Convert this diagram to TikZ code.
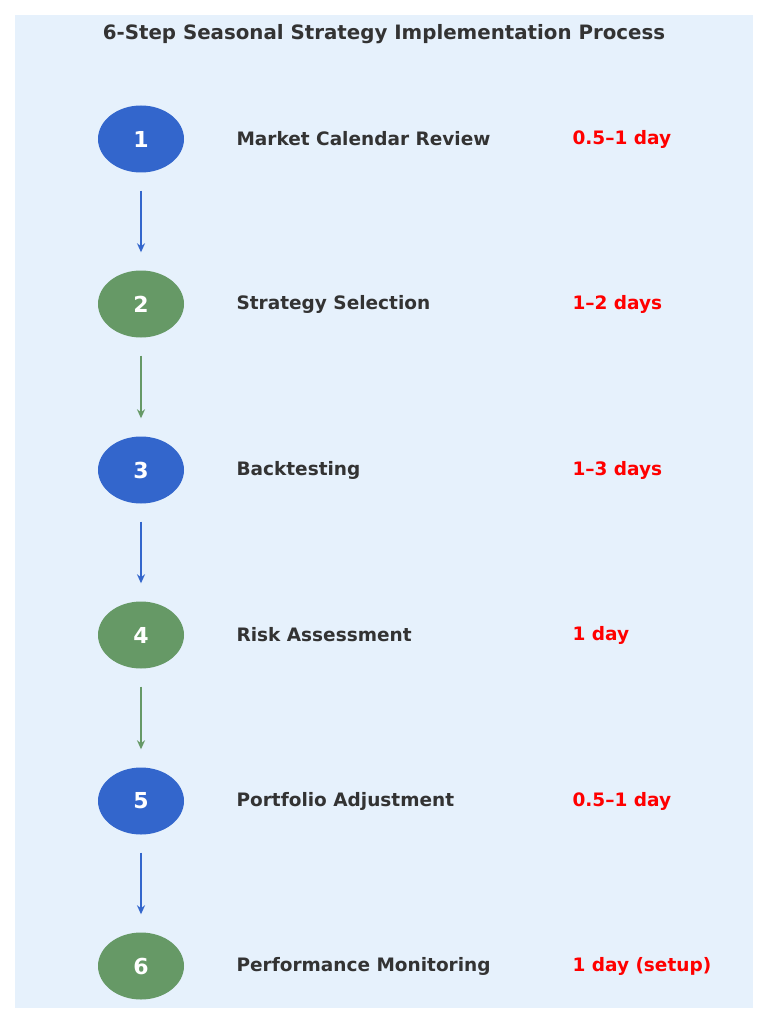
\documentclass[tikz,border=0pt]{standalone}
\usepackage{fontspec}
\setmainfont{DejaVu Sans}
\definecolor{bg}{HTML}{E6F1FC}
\definecolor{bl}{HTML}{3366CC}
\definecolor{gr}{HTML}{669966}
\definecolor{tx}{HTML}{333333}
\definecolor{rd}{HTML}{FF0000}
\tikzset{
 stepc/.style={ellipse,minimum width=86pt,minimum height=67pt,inner sep=0pt,text=white,font=\bfseries\fontsize{22}{26}\selectfont},
 lab/.style={anchor=west,text=tx,font=\bfseries\fontsize{18.5}{22}\selectfont},
 dur/.style={anchor=west,text=rd,font=\bfseries\fontsize{18.5}{22}\selectfont},
 arr/.style={line width=2.5pt,-{Stealth[length=9pt,width=8pt]}}
}
\usetikzlibrary{shapes.geometric,arrows.meta}
\begin{document}
\begin{tikzpicture}[x=1pt,y=-1pt]
\useasboundingbox (0,0) rectangle (768,1024);
\fill[bg] (15,15) rectangle (753,1008);
\node[text=tx,font=\bfseries\fontsize{19.8}{24}\selectfont] (title) at (384,34) {6-Step Seasonal Strategy Implementation Process};
\foreach \i/\y/\c/\l/\d in {1/139/bl/Market Calendar Review/0.5–1 day,2/304/gr/Strategy Selection/1–2 days,3/470/bl/Backtesting/1–3 days,4/635/gr/Risk Assessment/1 day,5/801/bl/Portfolio Adjustment/0.5–1 day,6/966/gr/Performance Monitoring/1 day (setup)}{
 \node[stepc,fill=\c] (s\i) at (141,\y) {\i};
 \node[lab] (l\i) at (233,\y) {\l};
 \node[dur] (d\i) at (569,\y) {\d};
}
\foreach \a/\b/\c in {1/2/bl,2/3/gr,3/4/bl,4/5/gr,5/6/bl}{
 \draw[arr,\c] ([yshift=-18pt]s\a.south) -- ([yshift=18pt]s\b.north);
}
\end{tikzpicture}
\end{document}
